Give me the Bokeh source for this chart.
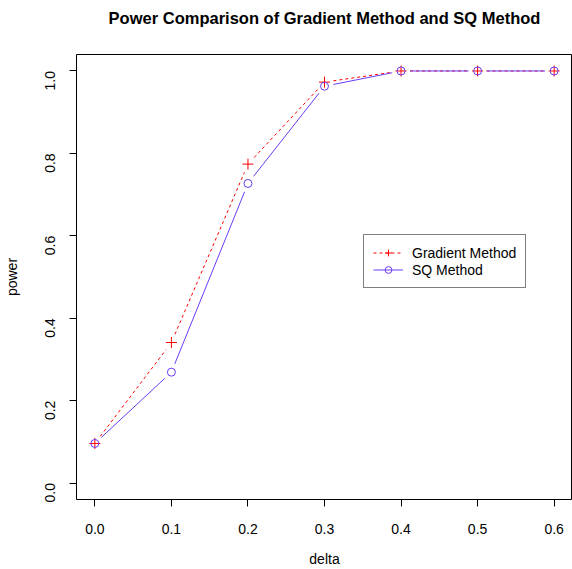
import math
from bokeh.plotting import figure
from bokeh.models import FixedTicker, Legend, LegendItem, Range1d, CustomJSTickFormatter
from bokeh.embed import file_html
from bokeh.resources import INLINE

delta = [0.0, 0.1, 0.2, 0.3, 0.4, 0.5, 0.6]
power_gradient = [0.096, 0.341, 0.774, 0.973, 1.0, 1.0, 1.0]
power_sq = [0.096, 0.269, 0.727, 0.963, 1.0, 1.0, 1.0]
x_ticks = [0.0, 0.1, 0.2, 0.3, 0.4, 0.5, 0.6]
y_ticks = [0.0, 0.2, 0.4, 0.6, 0.8, 1.0]
title_text = "Power Comparison of Gradient Method and SQ Method"
x_label = "delta"
y_label = "power"

FONT = "Liberation Sans"
W, H = 572, 569
ML, MR, MT, MB = 76, 0, 54, 69
xr = (-0.024, 0.624)
yr = (-0.04, 1.04)

p = figure(width=W, height=H, output_backend="svg", toolbar_location=None,
           x_range=Range1d(*xr), y_range=Range1d(*yr),
           min_border_left=ML, min_border_right=MR, min_border_top=MT, min_border_bottom=MB,
           title=title_text + "\n")
p.title.text_font = FONT
p.title.text_font_size = "16.5px"
p.title.text_font_style = "bold"
p.title.align = "center"
p.title.vertical_align = "top"
p.title.text_line_height = 1.0
p.title.standoff = 16
p.title.text_color = "black"

p.outline_line_color = "black"
p.outline_line_width = 1
p.xgrid.visible = False
p.ygrid.visible = False
p.background_fill_color = "white"
p.border_fill_color = "white"

fmt = CustomJSTickFormatter(code="return tick.toFixed(1);")
for ax, ticks in ((p.xaxis[0], x_ticks), (p.yaxis[0], y_ticks)):
    ax.ticker = FixedTicker(ticks=ticks)
    ax.formatter = fmt
    ax.axis_line_color = None
    ax.major_tick_line_color = "black"
    ax.major_tick_in = 0
    ax.major_tick_out = 7
    ax.minor_tick_line_color = None
    ax.major_label_text_font = FONT
    ax.major_label_text_font_size = "14px"
    ax.major_label_text_color = "black"
    ax.axis_label_text_font = FONT
    ax.axis_label_text_font_size = "14px"
    ax.axis_label_text_font_style = "normal"
    ax.axis_label_text_color = "black"

p.xaxis.axis_label = x_label
p.yaxis.axis_label = y_label
p.xaxis.major_label_standoff = 17
p.xaxis.axis_label_standoff = 14
p.xaxis.axis_label_text_line_height = 0.7
p.yaxis.major_label_standoff = 19
p.yaxis.axis_label_standoff = 18
p.yaxis.major_label_orientation = math.pi / 2

fw = W - ML - MR
fh = H - MT - MB

# R type="b": line segments with gaps around points
sx = fw / (xr[1] - xr[0])
sy = fh / (yr[1] - yr[0])
GAP = 9.0

def gapped(xs, ys):
    x0s, y0s, x1s, y1s = [], [], [], []
    for i in range(len(xs) - 1):
        dxp = (xs[i + 1] - xs[i]) * sx
        dyp = (ys[i + 1] - ys[i]) * sy
        d = math.hypot(dxp, dyp)
        if d <= 2 * GAP:
            continue
        f = GAP / d
        x0s.append(xs[i] + (xs[i + 1] - xs[i]) * f)
        y0s.append(ys[i] + (ys[i + 1] - ys[i]) * f)
        x1s.append(xs[i + 1] - (xs[i + 1] - xs[i]) * f)
        y1s.append(ys[i + 1] - (ys[i + 1] - ys[i]) * f)
    return x0s, y0s, x1s, y1s

RED = "#FF0000"
BLUE = "#6A3CF5"

g = gapped(delta, power_gradient)
r_gl = p.segment(x0=g[0], y0=g[1], x1=g[2], y1=g[3], line_color=RED, line_width=1,
                 line_dash="3 3")
r_gp = p.scatter(delta, power_gradient, marker="cross", size=11, line_color=RED, line_width=1)

s = gapped(delta, power_sq)
r_sl = p.segment(x0=s[0], y0=s[1], x1=s[2], y1=s[3], line_color=BLUE, line_width=1)
r_sp = p.scatter(delta, power_sq, marker="circle", size=8, line_color=BLUE, fill_color=None,
                 line_width=1)

legend = Legend(items=[LegendItem(label="Gradient Method", renderers=[r_gl, r_gp]),
                       LegendItem(label="SQ Method", renderers=[r_sl, r_sp])],
                location=(287, 211))
legend.label_text_font = FONT
legend.label_text_font_size = "14px"
legend.label_text_color = "black"
legend.glyph_width = 30
legend.glyph_height = 17
legend.label_height = 17
legend.label_standoff = 9
legend.spacing = 0
legend.padding = 9
legend.margin = 0
legend.border_line_color = "black"
legend.border_line_width = 1
legend.background_fill_color = "white"
legend.background_fill_alpha = 1
p.add_layout(legend, "center")

open("out.html", "w").write(file_html(p, INLINE))
